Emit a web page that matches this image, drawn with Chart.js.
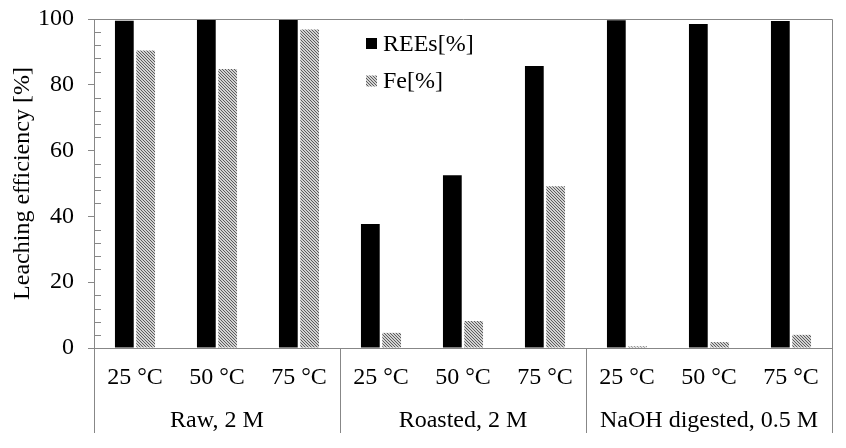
<!DOCTYPE html>
<html>
<head>
<meta charset="utf-8">
<title>Leaching efficiency</title>
<script src="https://cdn.jsdelivr.net/npm/chart.js@4.4.1/dist/chart.umd.min.js"></script>
<style>
  html, body { margin: 0; padding: 0; background: #fff; }
  #wrap { width: 846px; height: 448px; }
</style>
</head>
<body>
<div id="wrap"><canvas id="leachChart" width="846" height="448"></canvas></div>
<script>
// ===== DATA =====
const temps = ['25 °C', '50 °C', '75 °C', '25 °C', '50 °C', '75 °C', '25 °C', '50 °C', '75 °C'];
const groups = ['Raw, 2 M', 'Roasted, 2 M', 'NaOH digested, 0.5 M'];
const reeValues = [99.5, 99.7, 100, 37.7, 52.5, 85.7, 99.6, 98.5, 99.4];
const feValues = [90.4, 84.8, 96.8, 4.6, 8.2, 49.2, 0.5, 1.8, 4.0];
const yTicks = [0, 20, 40, 60, 80, 100];
const minorStep = 4;

const FONT = 'Liberation Serif';
const FONT_SIZE = 24;
const AXIS_GREY = '#878787';

// ===== HATCH PATTERN (Fe bars) =====
function makeHatch() {
  const c = document.createElement('canvas');
  c.width = 3; c.height = 3;
  const g = c.getContext('2d');
  g.fillStyle = '#d2d2d2';
  g.fillRect(0, 0, 3, 3);
  g.fillStyle = '#5c5c5c';
  for (let i = 0; i < 3; i++) {
    g.fillRect(i, i, 1, 1);
  }
  return g.createPattern(c, 'repeat');
}

// ===== EXTRA DRAWING: frame, minor ticks, group separators, legend =====
const decorPlugin = {
  id: 'decor',
  afterDraw(chart) {
    const ctx = chart.ctx;
    const area = chart.chartArea;
    const x = chart.scales.x;
    const y = chart.scales.y;
    ctx.save();
    ctx.strokeStyle = AXIS_GREY;
    ctx.lineWidth = 1;

    // top + right frame
    ctx.beginPath();
    ctx.moveTo(area.left, Math.round(area.top) + 0.5);
    ctx.lineTo(Math.round(area.right) + 0.5, Math.round(area.top) + 0.5);
    ctx.lineTo(Math.round(area.right) + 0.5, area.bottom);
    ctx.stroke();

    // minor ticks inside the plot
    ctx.beginPath();
    for (let v = y.min; v <= y.max; v += minorStep) {
      if (yTicks.includes(v)) continue;
      const py = Math.round(y.getPixelForValue(v)) + 0.5;
      ctx.moveTo(area.left, py);
      ctx.lineTo(area.left + 7, py);
    }
    ctx.stroke();

    // group separators below the axis
    const per = temps.length / groups.length;
    ctx.beginPath();
    for (let gi = 0; gi <= groups.length; gi++) {
      let px;
      if (gi === 0) px = area.left;
      else if (gi === groups.length) px = area.right;
      else px = (x.getPixelForValue(gi * per - 1) + x.getPixelForValue(gi * per)) / 2;
      px = Math.round(px) + 0.5;
      ctx.moveTo(px, area.bottom);
      ctx.lineTo(px, area.bottom + 85);
    }
    ctx.stroke();

    // legend
    ctx.font = FONT_SIZE + 'px "' + FONT + '"';
    ctx.textBaseline = 'middle';
    ctx.textAlign = 'left';
    const lx = 366, ly = [43.5, 81];
    chart.data.datasets.forEach((ds, i) => {
      ctx.fillStyle = ds.backgroundColor;
      ctx.fillRect(lx, ly[i] - 5.5, 11, 11);
      ctx.fillStyle = '#000';
      ctx.fillText(ds.label, lx + 17, ly[i] + 1);
    });
    ctx.restore();
  }
};

// ===== CHART =====
const ctx = document.getElementById('leachChart');
const leachChart = new Chart(ctx, {
  type: 'bar',
  data: {
    labels: temps,
    datasets: [
      { label: 'REEs[%]', data: reeValues, backgroundColor: '#000000',
        borderWidth: 0, categoryPercentage: 0.52, barPercentage: 0.88 },
      { label: 'Fe[%]', data: feValues, backgroundColor: makeHatch(),
        borderWidth: 0, categoryPercentage: 0.52, barPercentage: 0.88 }
    ]
  },
  options: {
    responsive: false,
    animation: false,
    devicePixelRatio: 1,
    layout: { padding: { left: 0, right: 14, top: 0, bottom: 15 } },
    plugins: {
      legend: { display: false },
      tooltip: { enabled: false }
    },
    scales: {
      x: {
        type: 'category',
        position: 'bottom',
        weight: 0,
        grid: { display: false, drawTicks: false },
        border: { display: true, color: AXIS_GREY, width: 1 },
        ticks: { color: '#000', font: { family: FONT, size: FONT_SIZE }, padding: 15, maxRotation: 0, autoSkip: false },
        afterFit: s => { s.height = 50; }
      },
      x2: {
        type: 'category',
        position: 'bottom',
        weight: 1,
        labels: groups,
        offset: true,
        grid: { display: false, drawTicks: false },
        border: { display: false },
        ticks: { color: '#000', font: { family: FONT, size: FONT_SIZE }, padding: 8, maxRotation: 0, autoSkip: false },
        afterFit: s => { s.height = 35; }
      },
      y: {
        min: 0,
        max: 100,
        ticks: { stepSize: 20, color: '#000', font: { family: FONT, size: FONT_SIZE }, padding: 14 },
        grid: { drawOnChartArea: false, drawTicks: true, tickLength: 6, color: AXIS_GREY },
        border: { display: true, color: AXIS_GREY, width: 1 },
        title: {
          display: true,
          text: 'Leaching efficiency [%]',
          color: '#000',
          font: { family: FONT, size: FONT_SIZE },
          padding: { top: 8, bottom: 0 }
        },
        afterFit: s => { s.width = 94; s.paddingTop = 19; s.paddingBottom = 20; }
      }
    }
  },
  plugins: [decorPlugin]
});
</script>
</body>
</html>
